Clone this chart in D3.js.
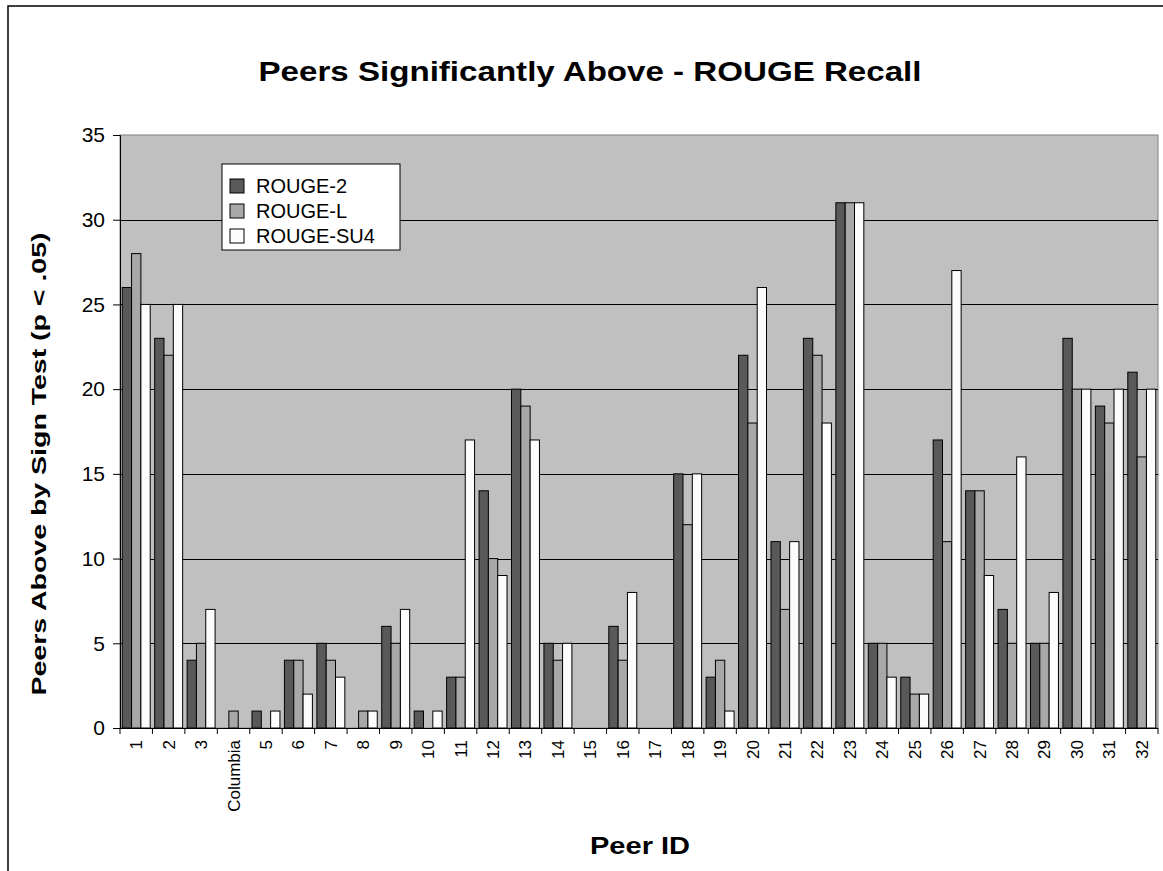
<!DOCTYPE html>
<html>
<head>
<meta charset="utf-8">
<script src="https://cdn.jsdelivr.net/npm/d3@7"></script>
<style>
  body { margin: 0; background: #fff; }
  svg { display: block; font-family: Arial, "Liberation Sans", sans-serif; }
</style>
</head>
<body>
<div class="chart"></div>
<script>
// categories on the x axis
var peers = ['1','2','3','Columbia','5','6','7','8','9','10','11','12','13','14','15','16',
  '17','18','19','20','21','22','23','24','25','26','27','28','29','30','31','32'];

var seriesNames = ['ROUGE-2', 'ROUGE-L', 'ROUGE-SU4'];

var rouge2   = [26,23,4,0,1,4,5,0,6,1,3,14,20,5,0,6,0,15,3,22,11,23,31,5,3,17,14,7,5,23,19,21];
var rougeL   = [28,22,5,1,0,4,4,1,5,0,3,10,19,4,0,4,0,12,4,18,7,22,31,5,2,11,14,5,5,20,18,16];
var rougeSU4 = [25,25,7,0,1,2,3,1,7,1,17,9,17,5,0,8,0,15,1,26,11,18,31,3,2,27,9,16,8,20,20,20];

var yTicks = [0,5,10,15,20,25,30,35];

var colors = ['#595959', '#a8a8a8', '#fcfcfc'];

var W = 1163, H = 871;
var pLeft = 120, pRight = 1158, pTop = 135, pBottom = 728;

var svg = d3.select('.chart').append('svg')
  .attr('width', W)
  .attr('height', H);

// outer chart border
svg.append('rect')
  .attr('x', 8).attr('y', 6)
  .attr('width', W + 20).attr('height', H + 20)
  .attr('fill', '#fff')
  .attr('stroke', '#000')
  .attr('stroke-width', 1.5);

var x0 = d3.scaleBand().domain(peers).range([pLeft, pRight]).padding(0);
var x1 = d3.scaleBand().domain(seriesNames).range([0, x0.bandwidth()])
  .paddingInner(0).paddingOuter(0.24);
var y = d3.scaleLinear().domain([0, 35]).range([pBottom, pTop]);

// plot area
svg.append('rect')
  .attr('x', pLeft).attr('y', pTop)
  .attr('width', pRight - pLeft).attr('height', pBottom - pTop)
  .attr('fill', '#c0c0c0')
  .attr('stroke', '#808080');

// gridlines
svg.append('g').selectAll('line')
  .data(yTicks.slice(1, -1))
  .enter().append('line')
  .attr('x1', pLeft).attr('x2', pRight)
  .attr('y1', function(d){ return Math.round(y(d)) + 0.5; })
  .attr('y2', function(d){ return Math.round(y(d)) + 0.5; })
  .attr('stroke', '#000')
  .attr('stroke-width', 1);

// bars
var table = peers.map(function(p, i){
  return { peer: p, vals: [rouge2[i], rougeL[i], rougeSU4[i]] };
});

var groups = svg.append('g').selectAll('g')
  .data(table)
  .enter().append('g')
  .attr('transform', function(d){ return 'translate(' + x0(d.peer) + ',0)'; });

groups.selectAll('rect')
  .data(function(d){
    return d.vals.map(function(v, k){ return { s: seriesNames[k], k: k, v: v }; })
      .filter(function(d){ return d.v > 0; });
  })
  .enter().append('rect')
  .attr('x', function(d){ return x1(d.s); })
  .attr('y', function(d){ return y(d.v); })
  .attr('width', x1.bandwidth())
  .attr('height', function(d){ return y(0) - y(d.v); })
  .attr('fill', function(d){ return colors[d.k]; })
  .attr('stroke', '#000')
  .attr('stroke-width', 1);

// y axis
var yAxis = svg.append('g')
  .attr('transform', 'translate(' + pLeft + ',0)')
  .call(d3.axisLeft(y).tickValues(yTicks).tickSize(7).tickPadding(8));
yAxis.select('.domain').attr('stroke', '#000');
yAxis.selectAll('text').attr('font-size', 21).attr('fill', '#000')
  .attr('font-family', 'Arial, "Liberation Sans", sans-serif');

// x axis line
svg.append('line')
  .attr('x1', pLeft).attr('x2', pRight)
  .attr('y1', pBottom + 0.5).attr('y2', pBottom + 0.5)
  .attr('stroke', '#000');

// tick marks between categories
svg.append('g').selectAll('line')
  .data(d3.range(peers.length + 1))
  .enter().append('line')
  .attr('x1', function(i){ return pLeft + i * x0.step(); })
  .attr('x2', function(i){ return pLeft + i * x0.step(); })
  .attr('y1', pBottom).attr('y2', pBottom + 6)
  .attr('stroke', '#000');

svg.append('g').selectAll('text')
  .data(peers)
  .enter().append('text')
  .attr('transform', function(d){
    return 'translate(' + (x0(d) + x0.bandwidth() / 2 + 6) + ',' + (pBottom + 12) + ') rotate(-90)';
  })
  .attr('text-anchor', 'end')
  .attr('font-size', 17)
  .text(function(d){ return d; });

// titles
svg.append('text')
  .attr('x', 590).attr('y', 81)
  .attr('text-anchor', 'middle')
  .attr('font-size', 28).attr('font-weight', 'bold')
  .attr('textLength', 663).attr('lengthAdjust', 'spacingAndGlyphs')
  .text('Peers Significantly Above - ROUGE Recall');

svg.append('text')
  .attr('x', 640).attr('y', 854)
  .attr('text-anchor', 'middle')
  .attr('font-size', 23).attr('font-weight', 'bold')
  .attr('textLength', 100).attr('lengthAdjust', 'spacingAndGlyphs')
  .text('Peer ID');

svg.append('text')
  .attr('transform', 'translate(46,' + 464 + ') rotate(-90)')
  .attr('text-anchor', 'middle')
  .attr('font-size', 21).attr('font-weight', 'bold')
  .attr('textLength', 463).attr('lengthAdjust', 'spacingAndGlyphs')
  .text('Peers Above by Sign Test (p < .05)');

// legend
var lg = svg.append('g').attr('transform', 'translate(222,164)');
lg.append('rect')
  .attr('width', 178).attr('height', 86)
  .attr('fill', '#fff').attr('stroke', '#000');
seriesNames.forEach(function(name, k){
  var row = lg.append('g').attr('transform', 'translate(0,' + (22 + k * 25) + ')');
  row.append('rect')
    .attr('x', 8).attr('y', -7)
    .attr('width', 14).attr('height', 14)
    .attr('fill', colors[k]).attr('stroke', '#000');
  row.append('text')
    .attr('x', 34).attr('y', 7)
    .attr('font-size', 20)
    .text(name);
});
</script>
</body>
</html>
